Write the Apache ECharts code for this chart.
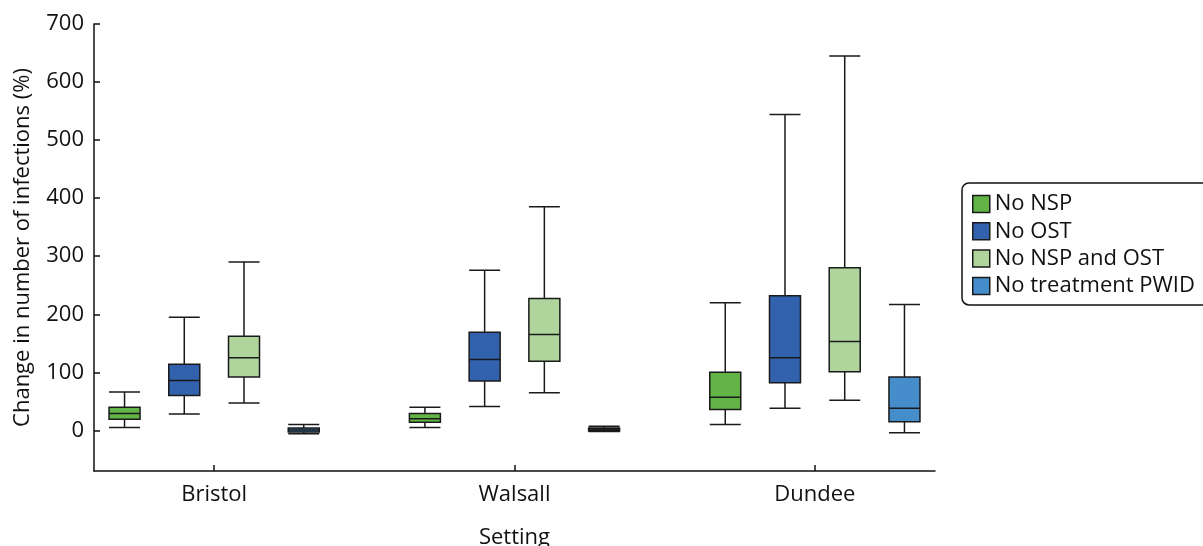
<!DOCTYPE html>
<html>
<head>
<meta charset="utf-8">
<script src="https://cdn.jsdelivr.net/npm/echarts@6/dist/echarts.min.js"></script>
<style>html,body{margin:0;padding:0;background:#fff}#c{width:1203px;height:546px}</style>
</head>
<body>
<div id="c"></div>
<script>
// Categories (settings) and scenarios
const settings = ['Bristol', 'Walsall', 'Dundee'];
const scenarios = ['No NSP', 'No OST', 'No NSP and OST', 'No treatment PWID'];
// Box values per setting: [min, Q1, median, Q3, max]
const noNSP        = [[5, 19, 29, 40, 66],   [5, 14, 20, 29, 40],    [10, 36, 57, 100, 220]];
const noOST        = [[28, 60, 86, 114, 195],[41, 85, 122, 169, 276],[38, 82, 125, 232, 544]];
const noNSPandOST  = [[47, 92, 125, 162, 290],[65, 119, 165, 227, 385],[52, 101, 153, 280, 645]];
const noTreatment  = [[-6, -3, 0.5, 4, 10],  [-2, -1, 1.5, 4, 7],    [-4, 15, 38, 92, 217]];
// Tick labels
const yTicks = [0, 100, 200, 300, 400, 500, 600, 700];

const seriesValues = [noNSP, noOST, noNSPandOST, noTreatment];
const colors = ['#62b446', '#3262ae', '#afd59d', '#458dcb'];
const FONT = 'Open Sans';
const FS = 22;

const chart = echarts.init(document.getElementById('c'), null, {renderer: 'canvas'});
chart.setOption({
  animation: false,
  textStyle: {fontFamily: FONT},
  grid: {left: 94, right: 268, top: 24, bottom: 75, containLabel: false, outerBoundsMode: 'none'},
  legend: {
    orient: 'vertical',
    left: 962, top: 183,
    padding: [10, 40, 8, 10],
    itemWidth: 17, itemHeight: 17, itemGap: 5.3,
    icon: 'rect',
    borderColor: '#111', borderWidth: 1.5, borderRadius: 7,
    textStyle: {fontFamily: FONT, fontSize: FS, color: '#111'},
    data: scenarios.map((n, k) => ({
      name: n,
      itemStyle: {color: colors[k], borderColor: '#1a1a1a', borderWidth: 1.5}
    }))
  },
  xAxis: {
    type: 'value',
    min: -0.4, max: 2.4,
    name: 'Setting', nameLocation: 'middle', nameGap: 56,
    nameTextStyle: {fontFamily: FONT, fontSize: FS, color: '#111'},
    axisLine: {onZero: false, lineStyle: {color: '#111', width: 1.5}},
    axisTick: {inside: true, length: 6, customValues: [0, 1, 2], lineStyle: {color: '#111', width: 1.5}},
    axisLabel: {customValues: [0, 1, 2], formatter: v => settings[Math.round(v)], margin: 13,
                fontFamily: FONT, fontSize: FS, color: '#111'},
    splitLine: {show: false}
  },
  yAxis: {
    type: 'value',
    min: -70, max: 700,
    name: 'Change in number of infections (%)', nameLocation: 'middle', nameGap: 60, nameRotate: 90,
    nameTextStyle: {fontFamily: FONT, fontSize: FS, color: '#111'},
    axisLine: {show: true, onZero: false, lineStyle: {color: '#111', width: 1.5}},
    axisTick: {show: true, inside: true, length: 6, customValues: yTicks, lineStyle: {color: '#111', width: 1.5}},
    axisLabel: {customValues: yTicks, margin: 10, fontFamily: FONT, fontSize: FS, color: '#111'},
    splitLine: {show: false}
  },
  series: scenarios.map((name, k) => ({
    name: name,
    type: 'boxplot',
    boxWidth: [31, 31],
    itemStyle: {color: colors[k], borderColor: '#1a1a1a', borderWidth: 1.5},
    emphasis: {disabled: true},
    data: seriesValues[k].map((v, i) => [i].concat(v))
  }))
});
</script>
</body>
</html>
